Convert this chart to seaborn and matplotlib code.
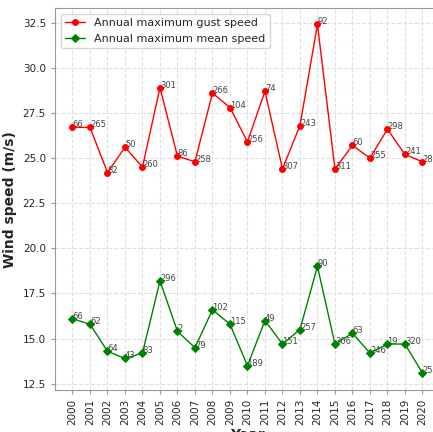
import pandas as pd
import matplotlib
matplotlib.use("Agg")
import matplotlib.pyplot as plt
import seaborn as sns

years = list(range(2000, 2021))
gust_speed = [26.7, 26.7, 24.2, 25.6, 24.5, 28.9, 25.1, 24.8, 28.6, 27.8, 25.9,
              28.7, 24.4, 26.8, 32.4, 24.4, 25.7, 25.0, 26.6, 25.2, 24.8]
mean_speed = [16.1, 15.8, 14.3, 13.9, 14.2, 18.2, 15.4, 14.5, 16.6, 15.8, 13.5,
              16.0, 14.7, 15.5, 19.0, 14.7, 15.3, 14.2, 14.7, 14.7, 13.1]
gust_labels = ['66', '265', '82', '50', '260', '301', '86', '258', '266', '104', '256',
               '74', '307', '243', '92', '311', '60', '255', '298', '241', '288']
mean_labels = ['66', '62', '64', '43', '83', '296', '2', '79', '102', '115', '189',
               '49', '151', '257', '90', '306', '63', '246', '19', '320', '254']

df = pd.DataFrame({'year': years, 'gust': gust_speed, 'mean': mean_speed})

sns.set_style("whitegrid", {'grid.linestyle': '--', 'grid.color': '#e0e0e0',
                            'axes.edgecolor': '#999999'})

fig = plt.figure(figsize=(4.33, 4.32), dpi=100)
ax = fig.add_axes([0.127, 0.097, 0.889, 0.884])

sns.lineplot(data=df, x='year', y='gust', color='red', marker='o', markersize=4.2,
             markeredgecolor='red', linewidth=1, label='Annual maximum gust speed', ax=ax)
sns.lineplot(data=df, x='year', y='mean', color='green', marker='D', markersize=3.8,
             markeredgecolor='green', linewidth=1, label='Annual maximum mean speed', ax=ax)

for x, y, t in zip(years, gust_speed, gust_labels):
    ax.text(x, y, t, fontsize=6, color='#444444', zorder=1)
for x, y, t in zip(years, mean_speed, mean_labels):
    ax.text(x, y, t, fontsize=6, color='#444444', zorder=1)

ax.set_xticks(years)
ax.set_xticklabels([str(y) for y in years], rotation=90, fontsize=7.5)
ax.tick_params(axis='y', labelsize=7.5)
ax.tick_params(length=3, color='#999999', bottom=True, left=True)
ax.set_xlim(1999, 2021)
ax.set_ylim(12.15, 33.3)
ax.set_xlabel('Year', fontsize=10, fontweight='bold', labelpad=2)
ax.set_ylabel('Wind speed (m/s)', fontsize=10, fontweight='bold')
ax.legend(loc='upper left', fontsize=8, frameon=True, handlelength=1.8)

fig.savefig("out.png", dpi=100)
